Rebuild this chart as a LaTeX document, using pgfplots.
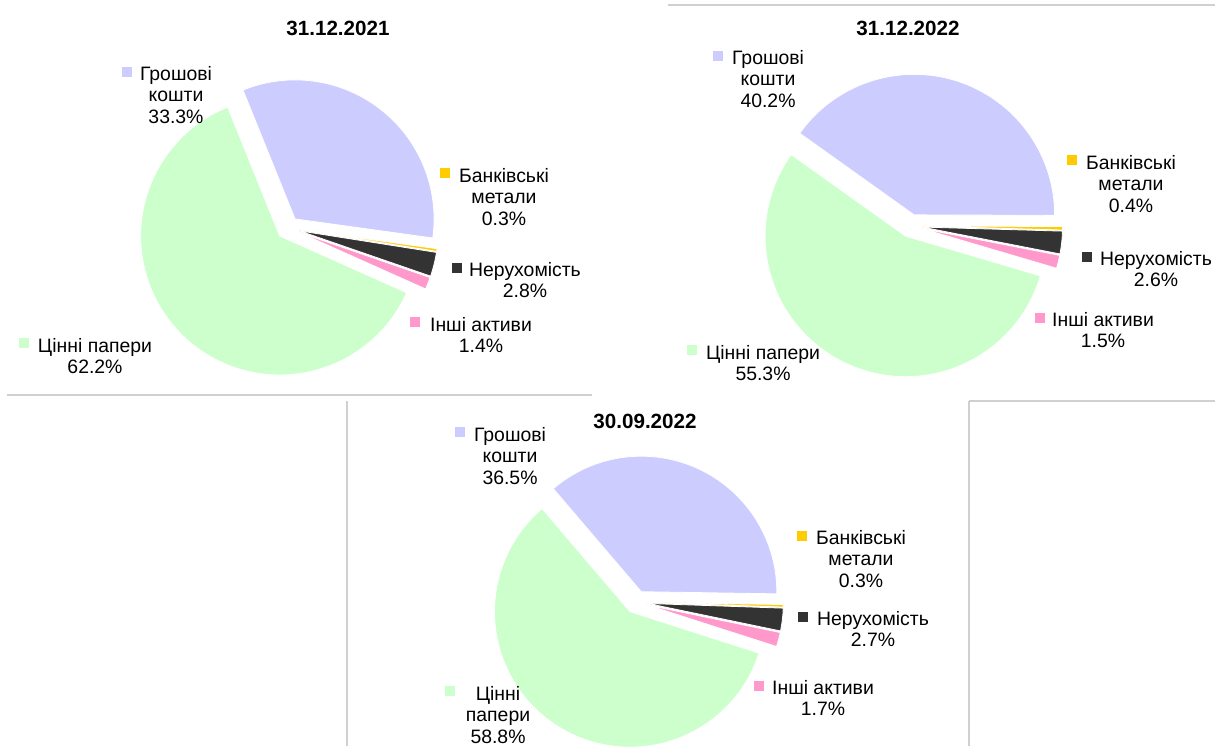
\documentclass[border=0pt]{standalone}
\usepackage{pgfplots}
\pgfplotsset{compat=1.18}
\usepackage{pgfplotstable}
\usepackage{fontspec}
\setmainfont{Liberation Sans}

\definecolor{slice0}{HTML}{CCCCFF}
\definecolor{slice1}{HTML}{FFCC00}
\definecolor{slice2}{HTML}{333333}
\definecolor{slice3}{HTML}{FF99CC}
\definecolor{slice4}{HTML}{CCFFCC}
\definecolor{framegray}{HTML}{D0D0D0}

% slice order (clockwise): 0 Грошові кошти, 1 Банківські метали, 2 Нерухомість, 3 Інші активи, 4 Цінні папери
\pgfplotstableread{
idx value
0 33.3
1 0.3
2 2.8
3 1.4
4 62.2
}\pieA
\pgfplotstableread{
idx value
0 40.2
1 0.4
2 2.6
3 1.5
4 55.3
}\pieB
\pgfplotstableread{
idx value
0 36.5
1 0.3
2 2.7
3 1.7
4 58.8
}\pieC

\newcommand{\lab}{\fontsize{9.7pt}{10.75pt}\selectfont}
\newcommand{\ttl}{\fontsize{10.3pt}{12pt}\selectfont\bfseries}

% #1 table, #2 cx, #3 cy (pixels, downwards), #4 radius px, #5 start angle, #6 explode px
\newcommand{\drawpie}[6]{%
  \pgfmathsetmacro{\scur}{#5}%
  \pgfmathsetmacro{\srad}{0.5*#4}%
  \pgfplotsforeachungrouped \k in {0,...,4}{%
    \pgfplotstablegetelem{\k}{value}\of{#1}%
    \pgfmathsetmacro{\sa}{\scur}%
    \pgfmathsetmacro{\sb}{\scur-3.6*\pgfplotsretval}%
    \pgfmathsetmacro{\sm}{(\sa+\sb)/2}%
    \pgfmathsetmacro{\sx}{#2+#6*cos(\sm)}%
    \pgfmathsetmacro{\sy}{-#3+#6*sin(\sm)}%
    \edef\tmp{\noexpand\fill[slice\k, draw=white, line width=0.4pt] (axis cs:\sx,\sy) -- ++(\sa:\srad pt) arc[start angle=\sa, end angle=\sb, radius=\srad pt] -- cycle;}%
    \tmp
    \let\scur\sb
  }%
}

% #1 marker x, #2 marker y, #3 colour, #4 text x, #5 text y, #6 text
\newcommand{\plabel}[6]{%
  \node[fill=#3, minimum size=4.6pt, inner sep=0pt, anchor=center] at (axis cs:#1,-#2) {};
  \node[align=center, inner sep=0pt, font=\lab, anchor=center] at (axis cs:#4,-#5) {#6};
}

\pgfplotsset{pieax/.style={at={(0,0)}, anchor=south west, scale only axis,
  width=607.5pt, height=373pt, xmin=0, xmax=1215, ymin=-746, ymax=0,
  hide axis, clip=false}}

\begin{document}
\begin{tikzpicture}
% ---- 31.12.2021 ----
\begin{axis}[pieax]
  \draw[framegray, line width=0.75pt] (axis cs:7,-395) -- (axis cs:592,-395);
  \drawpie{\pieA}{288}{228}{139}{112}{11.5}
  \node[font=\ttl] at (axis cs:338,-28) {31.12.2021};
  \plabel{127}{72}{slice0}{176}{95}{Грошові\\кошти\\33.3\%}
  \plabel{445}{173}{slice1}{504}{197}{Банківські\\метали\\0.3\%}
  \plabel{457}{268}{slice2}{525}{280}{Нерухомість\\2.8\%}
  \plabel{415}{322}{slice3}{481}{335}{Інші активи\\1.4\%}
  \plabel{24}{343}{slice4}{95}{356}{Цінні папери\\62.2\%}
\end{axis}
% ---- 31.12.2022 ----
\begin{axis}[pieax]
  \draw[framegray, line width=0.75pt] (axis cs:668,-5) -- (axis cs:1215,-5);
  \draw[framegray, line width=0.75pt] (axis cs:969,-401) -- (axis cs:1215,-401);
  \drawpie{\pieB}{910.6}{225.8}{140.5}{144.5}{11.5}
  \node[font=\ttl] at (axis cs:908,-28) {31.12.2022};
  \plabel{718}{56}{slice0}{768}{79}{Грошові\\кошти\\40.2\%}
  \plabel{1072}{160}{slice1}{1131}{184}{Банківські\\метали\\0.4\%}
  \plabel{1087}{257}{slice2}{1156}{269}{Нерухомість\\2.6\%}
  \plabel{1040}{318}{slice3}{1103}{330}{Інші активи\\1.5\%}
  \plabel{692}{350}{slice4}{763}{363}{Цінні папери\\55.3\%}
\end{axis}
% ---- 30.09.2022 ----
\begin{axis}[pieax]
  \fill[white] (axis cs:347,-401) rectangle (axis cs:969,-746);
  \draw[framegray, line width=0.75pt] (axis cs:347,-401) -- (axis cs:347,-746);
  \draw[framegray, line width=0.75pt] (axis cs:969,-401) -- (axis cs:969,-746);
  \drawpie{\pieC}{636.4}{602.1}{135.5}{130.5}{11.5}
  \node[font=\ttl] at (axis cs:645,-421) {30.09.2022};
  \plabel{460}{432}{slice0}{510}{456}{Грошові\\кошти\\36.5\%}
  \plabel{802}{536}{slice1}{861}{559}{Банківські\\метали\\0.3\%}
  \plabel{803}{617}{slice2}{873}{629}{Нерухомість\\2.7\%}
  \plabel{759}{686}{slice3}{823}{698}{Інші активи\\1.7\%}
  \plabel{450}{691}{slice4}{498}{715}{Цінні\\папери\\58.8\%}
\end{axis}
\pgfresetboundingbox
\useasboundingbox (0,0) rectangle (607.5pt,373pt);
\end{tikzpicture}
\end{document}
